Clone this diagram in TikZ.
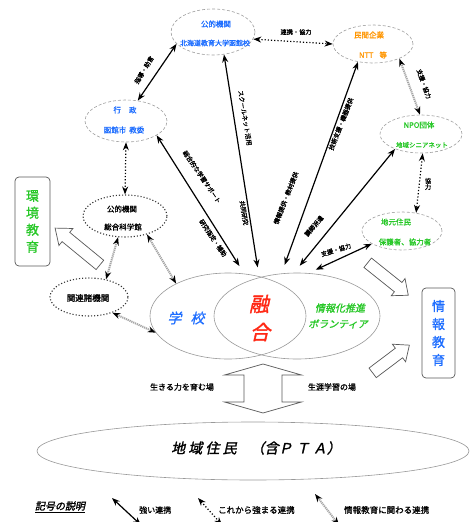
\documentclass[tikz,border=0pt]{standalone}
\usepackage{fontspec}
\setmainfont{Noto Sans CJK JP}
\newfontfamily\jpb[FakeBold=1.2]{Noto Sans CJK JP}
\newfontfamily\jpi[FakeSlant=0.22,FakeBold=0.8]{Noto Sans CJK JP}
\newfontfamily\jpbi[FakeSlant=0.22,FakeBold=1.6]{Noto Sans CJK JP}
\usetikzlibrary{arrows.meta,shapes.geometric}
\definecolor{jblue}{RGB}{30,110,255}
\definecolor{jgreen}{RGB}{40,200,40}
\definecolor{jorange}{RGB}{255,150,0}
\definecolor{jred}{RGB}{255,40,20}
\newcommand\jfs[1]{\fontsize{#1}{#1}\selectfont}
\newcommand\hollowarrow[6]{%
  \begin{scope}[shift={#1},rotate=#2]
    \draw[hollow] (-#3,-#4) -- (#3-#6,-#4) -- (#3-#6,-#5) -- (#3,0)
      -- (#3-#6,#5) -- (#3-#6,#4) -- (-#3,#4) -- cycle;
  \end{scope}}
\begin{document}
\begin{tikzpicture}[x=1pt,y=-1pt,
  ell/.style={ellipse, draw=gray!75, densely dashed, line width=0.6pt, inner sep=0pt},
  dell/.style={ellipse, draw=black!80, dotted, line width=1.1pt, inner sep=0pt},
  sell/.style={ellipse, draw=gray!80, line width=0.6pt, inner sep=0pt},
  etxt/.style={font=\jpb\jfs{7.5}, inner sep=0pt},
  lab/.style={font=\jpb\jfs{6.2}, inner sep=0pt},
  strong/.style={{Stealth[length=8pt,width=6pt]}-{Stealth[length=8pt,width=6pt]}, line width=1.2pt},
  future/.style={{Stealth[length=8pt,width=6pt]}-{Stealth[length=8pt,width=6pt]}, dotted, line width=1.2pt},
  info/.style={{Stealth[length=8pt,width=6pt,black]}-{Stealth[length=8pt,width=6pt,black]}, draw=gray!70, line width=2pt, dash pattern=on 1.2pt off 0.8pt},
  hollow/.style={draw=gray!70!black, fill=white, line width=0.7pt, line join=miter},
  box/.style={draw=gray!70!black, rounded corners=4pt, line width=0.7pt, align=center, inner sep=0pt}
]
\useasboundingbox (0,0) rectangle (475,522);
\fill[white] (0,0) rectangle (475,522);

% ---- ellipses ----
\node[ell, minimum width=84pt, minimum height=46pt] (tc) at (213,32) {};
\node[etxt, text=jblue] at (216,24) {公的機関};
\node[etxt, text=jblue, font=\jpb\jfs{7}] at (215,43) {北海道教育大学函館校};

\node[ell, minimum width=80pt, minimum height=38pt] (mc) at (373,44) {};
\node[etxt, text=jorange] at (369,35) {民間企業};
\node[etxt, text=jorange] at (373,55) {NTT\hspace{6pt}等};

\node[ell, minimum width=82pt, minimum height=42pt] (gy) at (126,121) {};
\node[etxt, text=jblue] at (125,110) {行\hspace{8pt}政};
\node[etxt, text=jblue] at (124,130) {函館市\hspace{3pt}教委};

\node[dell, minimum width=84pt, minimum height=42pt] (kk) at (125,216) {};
\node[etxt] at (122,209) {公的機関};
\node[etxt] at (123,227) {総合科学館};

\node[dell, minimum width=78pt, minimum height=38pt] (kr) at (89,297) {};
\node[etxt, font=\jpb\jfs{8.5}] at (88,298) {関連諸機関};

\node[ell, minimum width=82pt, minimum height=38pt] (npo) at (421,134) {};
\node[etxt, text=jgreen] at (419,125) {NPO団体};
\node[etxt, text=jgreen, font=\jpb\jfs{6.5}] at (422,145) {地域シニアネット};

\node[ell, minimum width=80pt, minimum height=38pt] (jm) at (402,231) {};
\node[etxt, text=jgreen] at (396,222) {地元住民};
\node[etxt, text=jgreen] at (405,242) {保護者、協力者};

% ---- school (two overlapping ellipses) ----
\node[sell, minimum width=156pt, minimum height=86pt] (schL) at (228,316) {};
\node[sell, minimum width=166pt, minimum height=86pt] (schR) at (297,316) {};
\node[font=\jpi\jfs{14}, text=jblue, inner sep=0pt] at (186,318) {学\hspace{9pt}校};
\node[font=\jpbi\jfs{20}, text=jred, inner sep=0pt] at (259,304) {融};
\node[font=\jpbi\jfs{20}, text=jred, inner sep=0pt] at (260,332) {合};
\node[font=\jpbi\jfs{10}, text=jgreen, inner sep=0pt] at (340,308) {情報化推進};
\node[font=\jpbi\jfs{10}, text=jgreen, inner sep=0pt] at (338,324) {ボランティア};

% ---- boxes ----
\node[box, minimum width=35pt, minimum height=89pt, text=jgreen, font=\jpb\fontsize{13}{17}\selectfont] (kyo) at (32.5,221.5) {環\\境\\教\\育};
\node[box, minimum width=33pt, minimum height=90pt, text=jblue, font=\jpb\fontsize{13}{18}\selectfont] (jyo) at (438.5,333) {情\\報\\教\\育};

% ---- residents ----
\node[sell, minimum width=432pt, minimum height=58pt] (jr) at (253,451) {};
\node[font=\jpbi\jfs{14}, inner sep=0pt] at (256,448) {地 域 住 民\hspace{14pt}（含Ｐ Ｔ Ａ）};

% ---- connectors ----
\draw[strong] (gy.60) -- (tc.-162);
\draw[future] (tc.-10) -- (mc.180);
\draw[info] (mc.-29) -- (npo.93);
\draw[future] (npo.-85) -- (jm.52);
\draw[future] (gy.-90) -- (kk.90);
\draw[info] (kk.-108) -- (kr.46);
\draw[info] (kk.-40) -- (schL.148);
\draw[info] (kr.-34) -- (schL.-167);
\draw[strong, shorten >=9pt] (tc.-64) -- (schL.52);
\draw[strong, shorten >=9pt] (gy.-25) -- (schL.69);
\draw[strong, shorten >=9pt] (mc.-130) -- (schR.110);
\draw[strong, shorten >=9pt] (npo.-150) -- (schR.94);
\draw[strong, shorten >=8pt] (jm.-157) -- (schR.75);

% ---- connector labels ----
\node[lab] at (144,70) [rotate=58.9] {指導・助言};
\node[lab] at (296,32) {連携・協力};
\node[lab] at (424,84) [rotate=-70.5] {支援・協力};
\node[lab, align=center] at (428,184) {協\\力};
\node[lab] at (245,118) [rotate=-80.7] {スクールネット活用};
\node[lab] at (244,213) [rotate=-80.7] {共同研究};
\node[lab] at (202,177) [rotate=-55.8] {総合的な学習サポート};
\node[lab] at (213,238) [rotate=-55.8] {研究指定・補助};
\node[lab] at (341,124) [rotate=68.4] {技術支援・機器提供};
\node[lab] at (286,198) [rotate=68.4] {情報提供・教材提供};
\node[lab] at (314,226) [rotate=49.2] {講師派遣};
\node[lab] at (336,250) [rotate=17] {支援・協力};

% ---- hollow arrows ----
\hollowarrow{(77.5,246.5)}{140.6}{29}{6}{11}{14}
\hollowarrow{(388,279)}{-38.7}{26}{6}{11}{13}
\hollowarrow{(391,359)}{37}{23}{6}{11}{13}
\draw[hollow] (263,364) -- (301.5,375) -- (282,375) -- (282,402) -- (301.5,402)
  -- (263,413) -- (224.5,402) -- (244,402) -- (244,375) -- (224.5,375) -- cycle;
\node[font=\jpb\jfs{8}, inner sep=0pt] at (182,387) {生きる力を育む場};
\node[font=\jpb\jfs{8}, inner sep=0pt] at (332,387) {生涯学習の場};

% ---- legend ----
\node[font=\jpbi\jfs{10}, inner sep=0pt] (lgt) at (60,507) {\underline{記号の説明}};
\coordinate (la1) at (112,498); \coordinate (lb1) at (141,525);
\coordinate (la2) at (198,498); \coordinate (lb2) at (222,525);
\coordinate (la3) at (315,494); \coordinate (lb3) at (339,525);
\draw[strong] (la1) -- (lb1);
\draw[future] (la2) -- (lb2);
\draw[info] (la3) -- (lb3);
\node[font=\jpb\jfs{8}, inner sep=0pt, anchor=west] at (139,510) {強い連携};
\node[font=\jpb\jfs{8.5}, inner sep=0pt, anchor=west] at (218,510) {これから強まる連携};
\node[font=\jpb\jfs{8.5}, inner sep=0pt, anchor=west] at (344,510) {情報教育に関わる連携};
\end{tikzpicture}
\end{document}
